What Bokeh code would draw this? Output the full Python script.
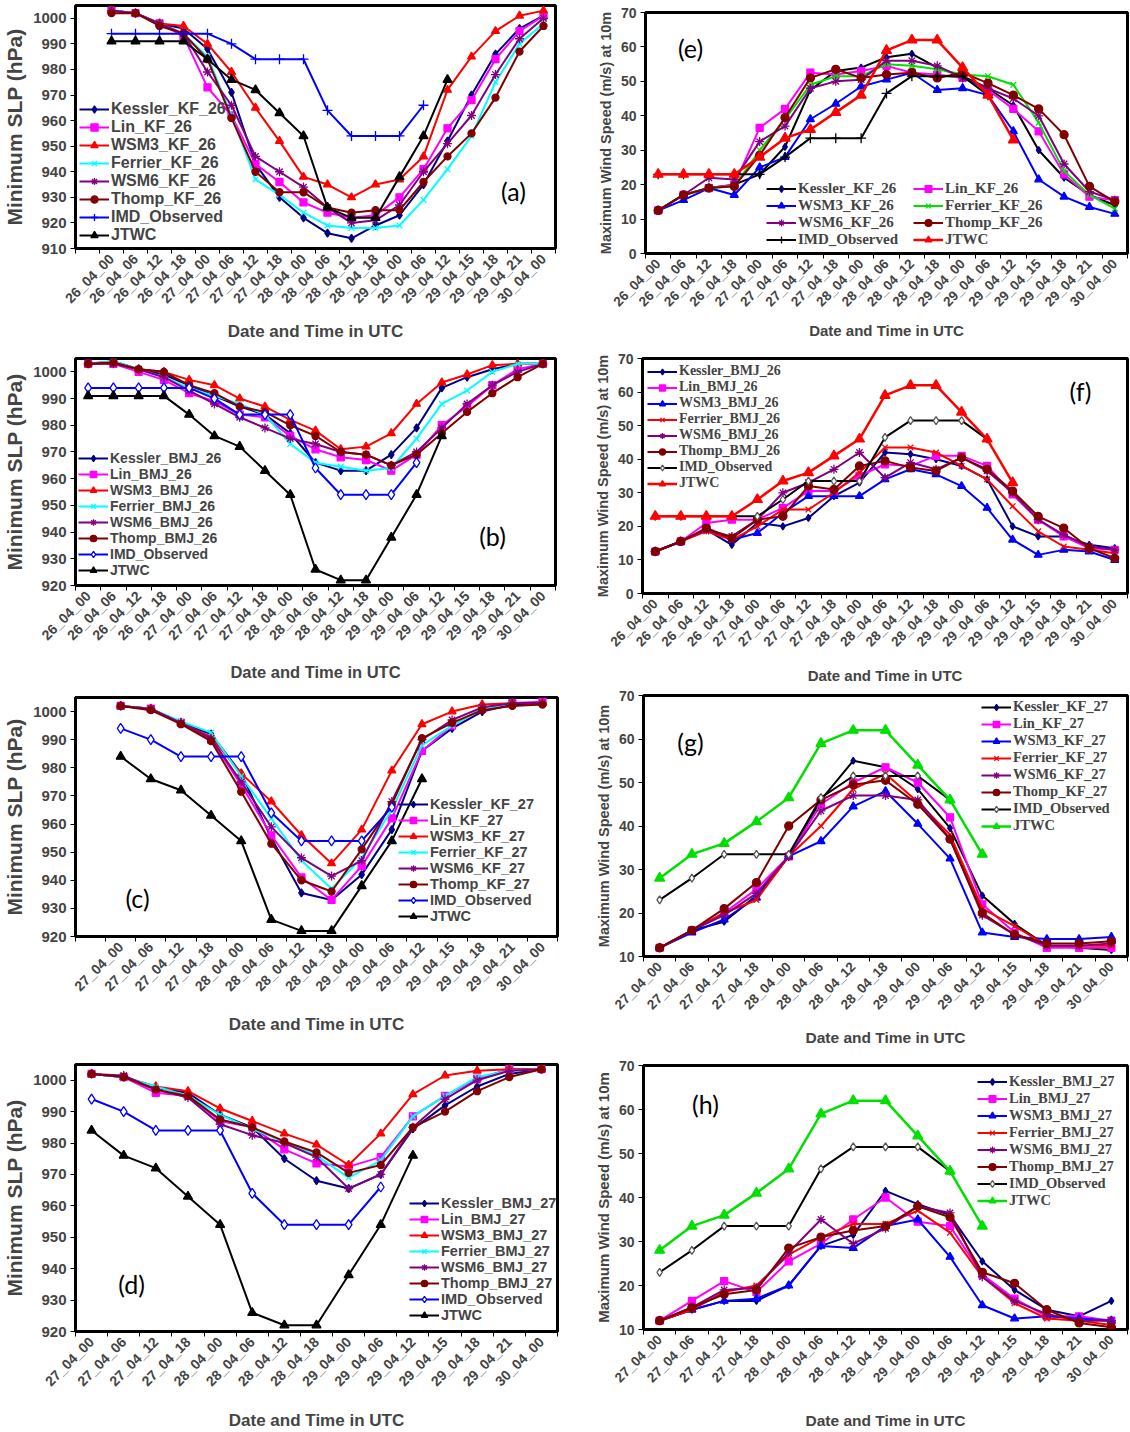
import math
from bokeh.plotting import figure
from bokeh.layouts import column, row
from bokeh.models import FixedTicker, Legend, LegendItem, Label, Range1d
from bokeh.embed import file_html
from bokeh.resources import INLINE

# ---------------- categories ----------------
CAT26 = ["26_04_00", "26_04_06", "26_04_12", "26_04_18", "27_04_00", "27_04_06",
         "27_04_12", "27_04_18", "28_04_00", "28_04_06", "28_04_12", "28_04_18",
         "29_04_00", "29_04_06", "29_04_12", "29_04_15", "29_04_18", "29_04_21",
         "30_04_00"]
CAT27 = ["27_04_00", "27_04_06", "27_04_12", "27_04_18", "28_04_00", "28_04_06",
         "28_04_12", "28_04_18", "29_04_00", "29_04_06", "29_04_12", "29_04_15",
         "29_04_18", "29_04_21", "30_04_00"]

# ---------------- observations ----------------
imd_slp_26 = [994, 994, 994, 994, 994, 990, 984, 984, 984, 964, 954, 954, 954, 966]
jtwc_slp_26 = [991, 991, 991, 991, 984, 976, 972, 963, 954, 926, 922, 922, 938, 954, 976]
imd_slp_27 = [994, 990, 984, 984, 984, 964, 954, 954, 954, 966]
jtwc_slp_27 = [984, 976, 972, 963, 954, 926, 922, 922, 938, 954, 976]
imd_wind_26 = [23, 23, 23, 23, 23, 28, 33.5, 33.5, 33.5, 46.5, 51.5, 51.5, 51.5, 46]
jtwc_wind_26 = [23, 23, 23, 23, 28, 33.5, 36, 41, 46, 59, 62, 62, 54, 46, 33]
imd_wind_27 = [23, 28, 33.5, 33.5, 33.5, 46.5, 51.5, 51.5, 51.5, 46]
jtwc_wind_27 = [28, 33.5, 36, 41, 46.5, 59, 62, 62, 54, 46, 33.5]

# ---------------- (a) SLP, KF, 26 ----------------
a_kessler = [1003, 1002, 998, 996, 988, 971, 943, 930, 922, 916, 914, 919, 923, 935, 952, 970, 986, 996, 1001]
a_lin = [1003, 1002, 998, 993, 973, 962, 943, 936, 928, 924, 922, 923, 930, 941, 957, 968, 984, 995, 1001]
a_wsm3 = [1003, 1002, 998, 997, 990, 979, 965, 952, 938, 935, 930, 935, 937, 946, 972, 985, 995, 1001, 1003]
a_ferrier = [1003, 1002, 998, 994, 985, 962, 937, 931, 924, 919, 918, 918, 919, 929, 941, 954, 975, 990, 998]
a_wsm6 = [1003, 1002, 998, 994, 979, 966, 946, 940, 934, 926, 920, 921, 927, 940, 951, 962, 978, 992, 1000]
a_thomp = [1002, 1002, 997, 994, 984, 961, 940, 932, 932, 926, 924, 925, 925, 936, 946, 955, 969, 987, 997]

# ---------------- (e) wind, KF, 26 ----------------
e_kessler = [12.5, 17, 19, 20, 23, 31, 47.5, 53, 54, 57, 58, 54, 51.5, 48, 43, 30, 22, 17, 14]
e_lin = [12.5, 17, 19, 20, 36.5, 42, 52.5, 52, 53, 54.5, 52.5, 52, 51, 47.5, 42, 35.5, 23, 16.5, 15.5]
e_wsm3 = [12.5, 15.5, 19, 17, 25, 28, 39, 43.5, 48.5, 50.5, 52.5, 47.5, 48, 46, 35.5, 21.5, 16.5, 13.5, 11.5]
e_ferrier = [12.5, 17, 19, 19.5, 30, 39, 49, 51.5, 51.5, 55, 54.5, 53.5, 52, 51.5, 49, 38, 24, 17, 13]
e_wsm6 = [12.5, 17, 22, 21.5, 32.5, 37, 48, 50, 50.5, 56, 56, 54.5, 51, 48, 45, 40, 26, 18, 15.5]
e_thomp = [12.5, 17, 19, 19.5, 28.5, 39.5, 51, 53.5, 51, 52, 52.5, 51, 52.5, 49.5, 46, 42, 34.5, 19.5, 15]

# ---------------- (b) SLP, BMJ, 26 ----------------
b_kessler = [1003, 1004, 1001, 999, 995, 991, 987, 984, 977, 966, 963, 963, 969, 979, 994, 998, 1001, 1003, 1003]
b_lin = [1003, 1003, 1000, 997, 992, 989, 984, 983, 976, 971, 968, 967, 963, 969, 980, 987, 995, 1001, 1003]
b_wsm3 = [1003, 1003.5, 1001, 1000, 997, 995, 990, 987, 982, 978, 971, 972, 977, 988, 996, 999, 1002.5, 1003, 1003]
b_ferrier = [1003, 1004, 1001, 998, 994, 991, 988, 984, 973, 966, 964.5, 963, 964, 975, 988, 993, 1000, 1003, 1003]
b_wsm6 = [1003, 1003, 1001, 998, 993, 988, 983, 979, 975, 973, 970, 969, 965, 970, 979, 988, 995, 1000, 1003]
b_thomp = [1003, 1003.5, 1001, 1000, 995, 992, 987, 985, 980, 976, 970, 969, 965, 969, 977, 985, 992, 998, 1003]

# ---------------- (f) wind, BMJ, 26 ----------------
f_kessler = [12.5, 15.5, 19, 14.5, 21, 20, 22.5, 29, 33, 42, 41.5, 40, 38, 34, 20, 17, 17, 14.5, 13.5]
f_lin = [12.5, 15.5, 21, 22, 22, 25.5, 30.5, 30.5, 35, 38.5, 38, 41, 41, 38, 29.5, 22, 17, 13.5, 13]
f_wsm3 = [12.5, 15.5, 19, 16, 18, 24, 29, 29, 29, 34, 37, 35.5, 32, 25.5, 16, 11.5, 13, 12.5, 10]
f_ferrier = [12.5, 15.5, 18.5, 16, 20, 25, 25, 30, 36, 43.5, 43.5, 42, 38, 34, 26, 18.5, 14, 13, 12]
f_wsm6 = [12.5, 15.5, 19, 17, 22, 30, 33, 37, 42, 34.5, 39, 37, 40.5, 36.5, 30, 22, 17.5, 14, 13]
f_thomp = [12.5, 15.5, 19.5, 16.5, 22, 23, 32, 31, 38, 39.5, 37.5, 36.5, 40.5, 37, 30.5, 23, 19.5, 13.5, 10.5]

# ---------------- (c) SLP, KF, 27 ----------------
c_kessler = [1002, 1001, 996, 992, 978, 955, 935.5, 933, 942, 958, 986, 994, 1000, 1002.5, 1003]
c_lin = [1002, 1001, 996, 990, 974, 956, 941, 933, 945, 962, 986, 995, 1001, 1003, 1003.5]
c_wsm3 = [1002, 1001, 996, 991, 978, 968, 956, 946, 958, 979, 995.5, 1000, 1002.5, 1003, 1003]
c_ferrier = [1002, 1001, 996.5, 992.5, 977, 962, 947, 937, 948, 965, 988, 995, 1001, 1003, 1003]
c_wsm6 = [1002, 1001, 996, 990.5, 975, 959, 948, 941.5, 947, 968, 990, 997, 1001.5, 1003, 1003]
c_thomp = [1002, 1000.5, 995.5, 989.5, 971.5, 953, 940, 936, 951, 967, 990.5, 996, 1000.5, 1002, 1002.5]

# ---------------- (g) wind, KF, 27 ----------------
g_kessler = [12, 16, 18, 24, 33, 46, 55, 53.5, 48.5, 39.5, 24, 17.5, 12.5, 12, 11.5]
g_lin = [12, 16, 20, 25.5, 33, 45, 50, 53.5, 50, 42, 22, 15.5, 12, 12, 12]
g_wsm3 = [12, 15.5, 18.5, 23.5, 33, 36.5, 44.5, 48, 40.5, 32.5, 15.5, 14.5, 14, 14, 14.5]
g_ferrier = [12, 16, 20, 23, 33, 40, 48.5, 52, 45.5, 38, 21, 17, 12.5, 12.5, 12.5]
g_wsm6 = [12, 16, 19.5, 24.5, 33, 43.5, 47, 47, 46, 37, 19.5, 15, 12.5, 12.5, 13]
g_thomp = [12, 16, 21, 27, 40, 46, 49.5, 50.5, 45, 37, 20, 15, 13, 13, 13.5]

# ---------------- (d) SLP, BMJ, 27 ----------------
d_kessler = [1002, 1001, 997.5, 996, 989, 985, 975, 968, 965.5, 970, 984.5, 992, 998, 1002, 1003.5]
d_lin = [1002, 1001, 996, 995, 987, 985, 978, 973.5, 972.5, 975.5, 988.5, 995, 1000.5, 1003.5, 1003.5]
d_wsm3 = [1002, 1001, 998, 996.5, 991, 987, 983, 979.5, 973, 983, 995.5, 1001.5, 1003, 1003.5, 1003.5]
d_ferrier = [1002, 1001, 998, 995, 989, 984.5, 980.5, 976, 969, 974.5, 988.5, 995, 1001, 1003, 1003.5]
d_wsm6 = [1002, 1001.5, 997, 994.5, 986, 982.5, 980, 975.5, 965.5, 970, 985, 994, 1000, 1003, 1003.5]
d_thomp = [1002, 1001, 997, 995, 987.5, 985, 980.5, 977, 970.5, 973, 985, 990, 996.5, 1001, 1003.5]

# ---------------- (h) wind, BMJ, 27 ----------------
h_kessler = [12, 14.5, 16.5, 16.5, 20, 29, 31.5, 41.5, 38.5, 36, 25.5, 19, 14.5, 13, 16.5]
h_lin = [12, 16.5, 21, 18.5, 25.5, 29.5, 35, 40, 34.5, 33.5, 22.5, 17, 13, 13, 12]
h_wsm3 = [12, 14.5, 16.5, 17, 20, 29, 28.5, 33.5, 35, 26.5, 15.5, 12.5, 13, 12.5, 12]
h_ferrier = [12, 14.5, 18.5, 20, 27, 31, 34, 34, 37, 32, 22, 16, 12.5, 12, 11]
h_wsm6 = [12, 15, 19, 19.5, 27.5, 35, 29.5, 33, 38, 36.5, 22, 16.5, 13.5, 12, 12]
h_thomp = [12, 15, 18, 19, 28.5, 31, 32.5, 33.5, 38, 35.5, 23, 20.5, 14.5, 11.5, 10.5]

SLP_TICKS_A = list(range(910, 1001, 10))
SLP_TICKS = list(range(920, 1001, 10))
WIND_TICKS_0 = list(range(0, 71, 10))
WIND_TICKS_10 = list(range(10, 71, 10))

SANS = "Liberation Sans"
SERIF = "Liberation Serif"

NAVY = "#000080"
MAG = "#FF00FF"
RED = "#FF0000"
CYAN = "#00FFFF"
PURPLE = "#800080"
DRED = "#800000"
BLUE = "#0000FF"
BLACK = "#000000"
GREEN = "#00E000"


def style(color, marker, size, line_color=None, fill=None, lw=2):
    return dict(color=color, marker=marker, size=size,
                line_color=line_color or color, fill=fill, lw=lw)


def make_panel(cats, blank, series, yr, yticks, ylabel, geom, tag, legs, fonts):
    W, H, bl, br, bt, bb = geom
    n = len(cats)
    x0 = -1.5 if blank else -0.5
    p = figure(width=W, height=H, output_backend="svg", toolbar_location=None,
               x_range=Range1d(x0, n - 0.5), y_range=Range1d(*yr),
               min_border_left=bl, min_border_right=br,
               min_border_top=bt, min_border_bottom=bb)
    p.grid.visible = False
    p.outline_line_color = "black"
    p.outline_line_width = 3
    p.background_fill_color = "white"
    p.border_fill_color = "white"

    xa = p.xaxis[0]
    start = -1 if blank else 0
    xa.ticker = FixedTicker(ticks=list(range(n)),
                            minor_ticks=[k - 0.5 for k in range(start, n + 1)])
    xa.major_label_overrides = {i: c for i, c in enumerate(cats)}
    xa.major_label_orientation = math.pi / 4
    xa.major_tick_out = 0
    xa.major_tick_in = 0
    xa.minor_tick_out = 5
    xa.minor_tick_in = 0
    xa.minor_tick_line_color = "black"
    xa.axis_line_color = None
    xa.major_label_text_font = SANS
    xa.major_label_text_font_style = "bold"
    xa.major_label_text_font_size = fonts["xtick"]
    xa.major_label_standoff = 3
    xa.axis_label = "Date and Time in UTC"
    xa.axis_label_text_font = SANS
    xa.axis_label_text_font_style = "bold"
    xa.axis_label_text_font_size = fonts["xtitle"]
    xa.axis_label_standoff = fonts["xstand"]

    ya = p.yaxis[0]
    ya.ticker = FixedTicker(ticks=yticks)
    ya.major_tick_out = 5
    ya.major_tick_in = 0
    ya.axis_line_color = None
    ya.major_label_text_font = SANS
    ya.major_label_text_font_style = "bold"
    ya.major_label_text_font_size = fonts["ytick"]
    ya.major_label_standoff = 4
    ya.axis_label = ylabel
    ya.axis_label_text_font = SANS
    ya.axis_label_text_font_style = "bold"
    ya.axis_label_text_font_size = fonts["ytitle"]
    ya.axis_label_standoff = 4

    items = []
    for label, vals, st in series:
        xs = list(range(len(vals)))
        lr = p.line(xs, vals, line_color=st["line_color"], line_width=st["lw"])
        fill = st["fill"] if st["fill"] is not None else st["color"]
        sr = p.scatter(xs, vals, marker=st["marker"], size=st["size"],
                       line_color=st["color"], fill_color=fill, line_width=1.3)
        items.append(LegendItem(label=label, renderers=[lr, sr]))

    for leg in legs:
        sel = leg.get("idx", list(range(len(items))))
        lg = Legend(items=[items[i] for i in sel], location=leg["loc"],
                    label_text_font=leg["font"], label_text_font_style="bold",
                    label_text_font_size=leg["size"],
                    glyph_width=30, glyph_height=leg["gh"],
                    label_height=leg["gh"], spacing=0, padding=2,
                    margin=leg.get("margin", 0), label_standoff=2,
                    border_line_color=None, background_fill_alpha=0)
        p.add_layout(lg, "center")

    p.add_layout(Label(x=tag[1], y=tag[2], x_units="screen", y_units="screen",
                       text=tag[0], text_font="Lato", text_font_size="25px",
                       text_align="center", text_baseline="middle",
                       text_color="black"))
    return p


def slp_series(suffix, vals, imd, jtwc, imd_marker):
    names = ["Kessler", "Lin", "WSM3", "Ferrier", "WSM6", "Thomp"]
    sts = [style(NAVY, "diamond", 8), style(MAG, "square", 7),
           style(RED, "triangle", 8), style(CYAN, "x", 8),
           style(PURPLE, "asterisk", 9), style(DRED, "circle", 7)]
    out = [(f"{nm}_{suffix}", v, s) for nm, v, s in zip(names, vals, sts)]
    if imd_marker == "cross":
        out.append(("IMD_Observed", imd, style(BLUE, "cross", 10)))
    else:
        out.append(("IMD_Observed", imd, style(BLUE, "diamond", 10, fill="white")))
    out.append(("JTWC", jtwc, style(BLACK, "triangle", 9)))
    return out


def wind_series(suffix, vals, imd, jtwc, kess_line, ferr_color, jtwc_color, imd_cross):
    out = [
        (f"Kessler_{suffix}", vals[0], style(NAVY, "diamond", 7, line_color=kess_line)),
        (f"Lin_{suffix}", vals[1], style(MAG, "square", 7)),
        (f"WSM3_{suffix}", vals[2], style(BLUE, "triangle", 8)),
        (f"Ferrier_{suffix}", vals[3], style(ferr_color, "x", 8)),
        (f"WSM6_{suffix}", vals[4], style(PURPLE, "asterisk", 9)),
        (f"Thomp_{suffix}", vals[5], style(DRED, "circle", 8)),
    ]
    if imd_cross:
        out.append(("IMD_Observed", imd, style(BLACK, "cross", 10)))
    else:
        out.append(("IMD_Observed", imd, style("#555555", "diamond", 8, line_color=BLACK, fill="white")))
    out.append(("JTWC", jtwc, style(jtwc_color, "triangle", 10, lw=2.5)))
    return out


def fonts(xtick, xtitle, xstand, ytick, ytitle):
    return {"xtick": xtick, "xtitle": xtitle, "xstand": xstand, "ytick": ytick, "ytitle": ytitle}


# (a)
pa = make_panel(CAT26, True,
                slp_series("KF_26", [a_kessler, a_lin, a_wsm3, a_ferrier, a_wsm6, a_thomp],
                           imd_slp_26, jtwc_slp_26, "cross"),
                (910, 1005), SLP_TICKS_A, "Minimum SLP (hPa)",
                (565, 345, 72, 10, 5, 97), ("(a)", 438, 58),
                [{"loc": (4, 4), "font": SANS, "size": "16px", "gh": 18}],
                fonts("14px", "17px", 7, "15px", "21px"))

# (b)
pb = make_panel(CAT26, False,
                slp_series("BMJ_26", [b_kessler, b_lin, b_wsm3, b_ferrier, b_wsm6, b_thomp],
                           imd_slp_26, jtwc_slp_26, "diamond"),
                (920, 1005), SLP_TICKS, "Minimum SLP (hPa)",
                (565, 343, 70, 10, 13, 103), ("(b)", 417, 50),
                [{"loc": (3, 7), "font": SANS, "size": "14px", "gh": 16}],
                fonts("14px", "16.5px", 11, "15px", "21px"))

# (c)
pc = make_panel(CAT27, True,
                slp_series("KF_27", [c_kessler, c_lin, c_wsm3, c_ferrier, c_wsm6, c_thomp],
                           imd_slp_27, jtwc_slp_27, "diamond"),
                (920, 1005), SLP_TICKS, "Minimum SLP (hPa)",
                (565, 362, 70, 8, 9, 114), ("(c)", 62, 39),
                [{"loc": (323, 12), "font": SANS, "size": "14.5px", "gh": 16}],
                fonts("14px", "17px", 12, "15px", "21px"))

# (d)
pd_ = make_panel(CAT27, False,
                 slp_series("BMJ_27", [d_kessler, d_lin, d_wsm3, d_ferrier, d_wsm6, d_thomp],
                            imd_slp_27, jtwc_slp_27, "diamond"),
                 (920, 1005), SLP_TICKS, "Minimum SLP (hPa)",
                 (565, 382, 72, 8, 14, 101), ("(d)", 56, 48),
                 [{"loc": (334, 8), "font": SANS, "size": "14.5px", "gh": 16}],
                 fonts("14px", "17px", 13, "15px", "21px"))

# (e)
pe = make_panel(CAT26, False,
                wind_series("KF_26", [e_kessler, e_lin, e_wsm3, e_ferrier, e_wsm6, e_thomp],
                            imd_wind_26, jtwc_wind_26, BLACK, GREEN, RED, True),
                (0, 70), WIND_TICKS_0, "Maximum Wind Speed (m/s) at 10m",
                (565, 345, 80, 3, 12, 92), ("(e)", 45, 206),
                [{"loc": (121, 5), "font": SERIF, "size": "15px", "gh": 17, "idx": [0, 2, 4, 6]},
                 {"loc": (268, 5), "font": SERIF, "size": "15px", "gh": 17, "idx": [1, 3, 5, 7]}],
                fonts("13.5px", "15px", 4, "14px", "14.5px"))

# (f)
pf = make_panel(CAT26, False,
                wind_series("BMJ_26", [f_kessler, f_lin, f_wsm3, f_ferrier, f_wsm6, f_thomp],
                            imd_wind_26, jtwc_wind_26, NAVY, RED, RED, False),
                (0, 70), WIND_TICKS_0, "Maximum Wind Speed (m/s) at 10m",
                (565, 343, 77, 3, 13, 95), ("(f)", 438, 203),
                [{"loc": "top_left", "margin": 5, "font": SERIF, "size": "14px", "gh": 15}],
                fonts("13.5px", "15px", 9, "14px", "14.5px"))

# (g)
pg = make_panel(CAT27, False,
                wind_series("KF_27", [g_kessler, g_lin, g_wsm3, g_ferrier, g_wsm6, g_thomp],
                            imd_wind_27, jtwc_wind_27, BLACK, RED, GREEN, False),
                (10, 70), WIND_TICKS_10, "Maximum Wind Speed (m/s) at 10m",
                (565, 362, 78, 3, 7, 94), ("(g)", 47, 215),
                [{"loc": (338, 122), "font": SERIF, "size": "14.5px", "gh": 16}],
                fonts("13.5px", "15.5px", 8, "14px", "14.5px"))

# (h)
ph = make_panel(CAT27, False,
                wind_series("BMJ_27", [h_kessler, h_lin, h_wsm3, h_ferrier, h_wsm6, h_thomp],
                            imd_wind_27, jtwc_wind_27, NAVY, RED, GREEN, False),
                (10, 70), WIND_TICKS_10, "Maximum Wind Speed (m/s) at 10m",
                (565, 382, 78, 3, 15, 103), ("(h)", 62, 226),
                [{"loc": (334, 120), "font": SERIF, "size": "14.5px", "gh": 17}],
                fonts("13.5px", "15.5px", 18, "14px", "15px"))

layout = column(row(column(pa), column(pe)), row(column(pb), column(pf)),
                row(column(pc), column(pg)), row(column(pd_), column(ph)))

with open("out.html", "w") as f:
    f.write(file_html(layout, INLINE))
